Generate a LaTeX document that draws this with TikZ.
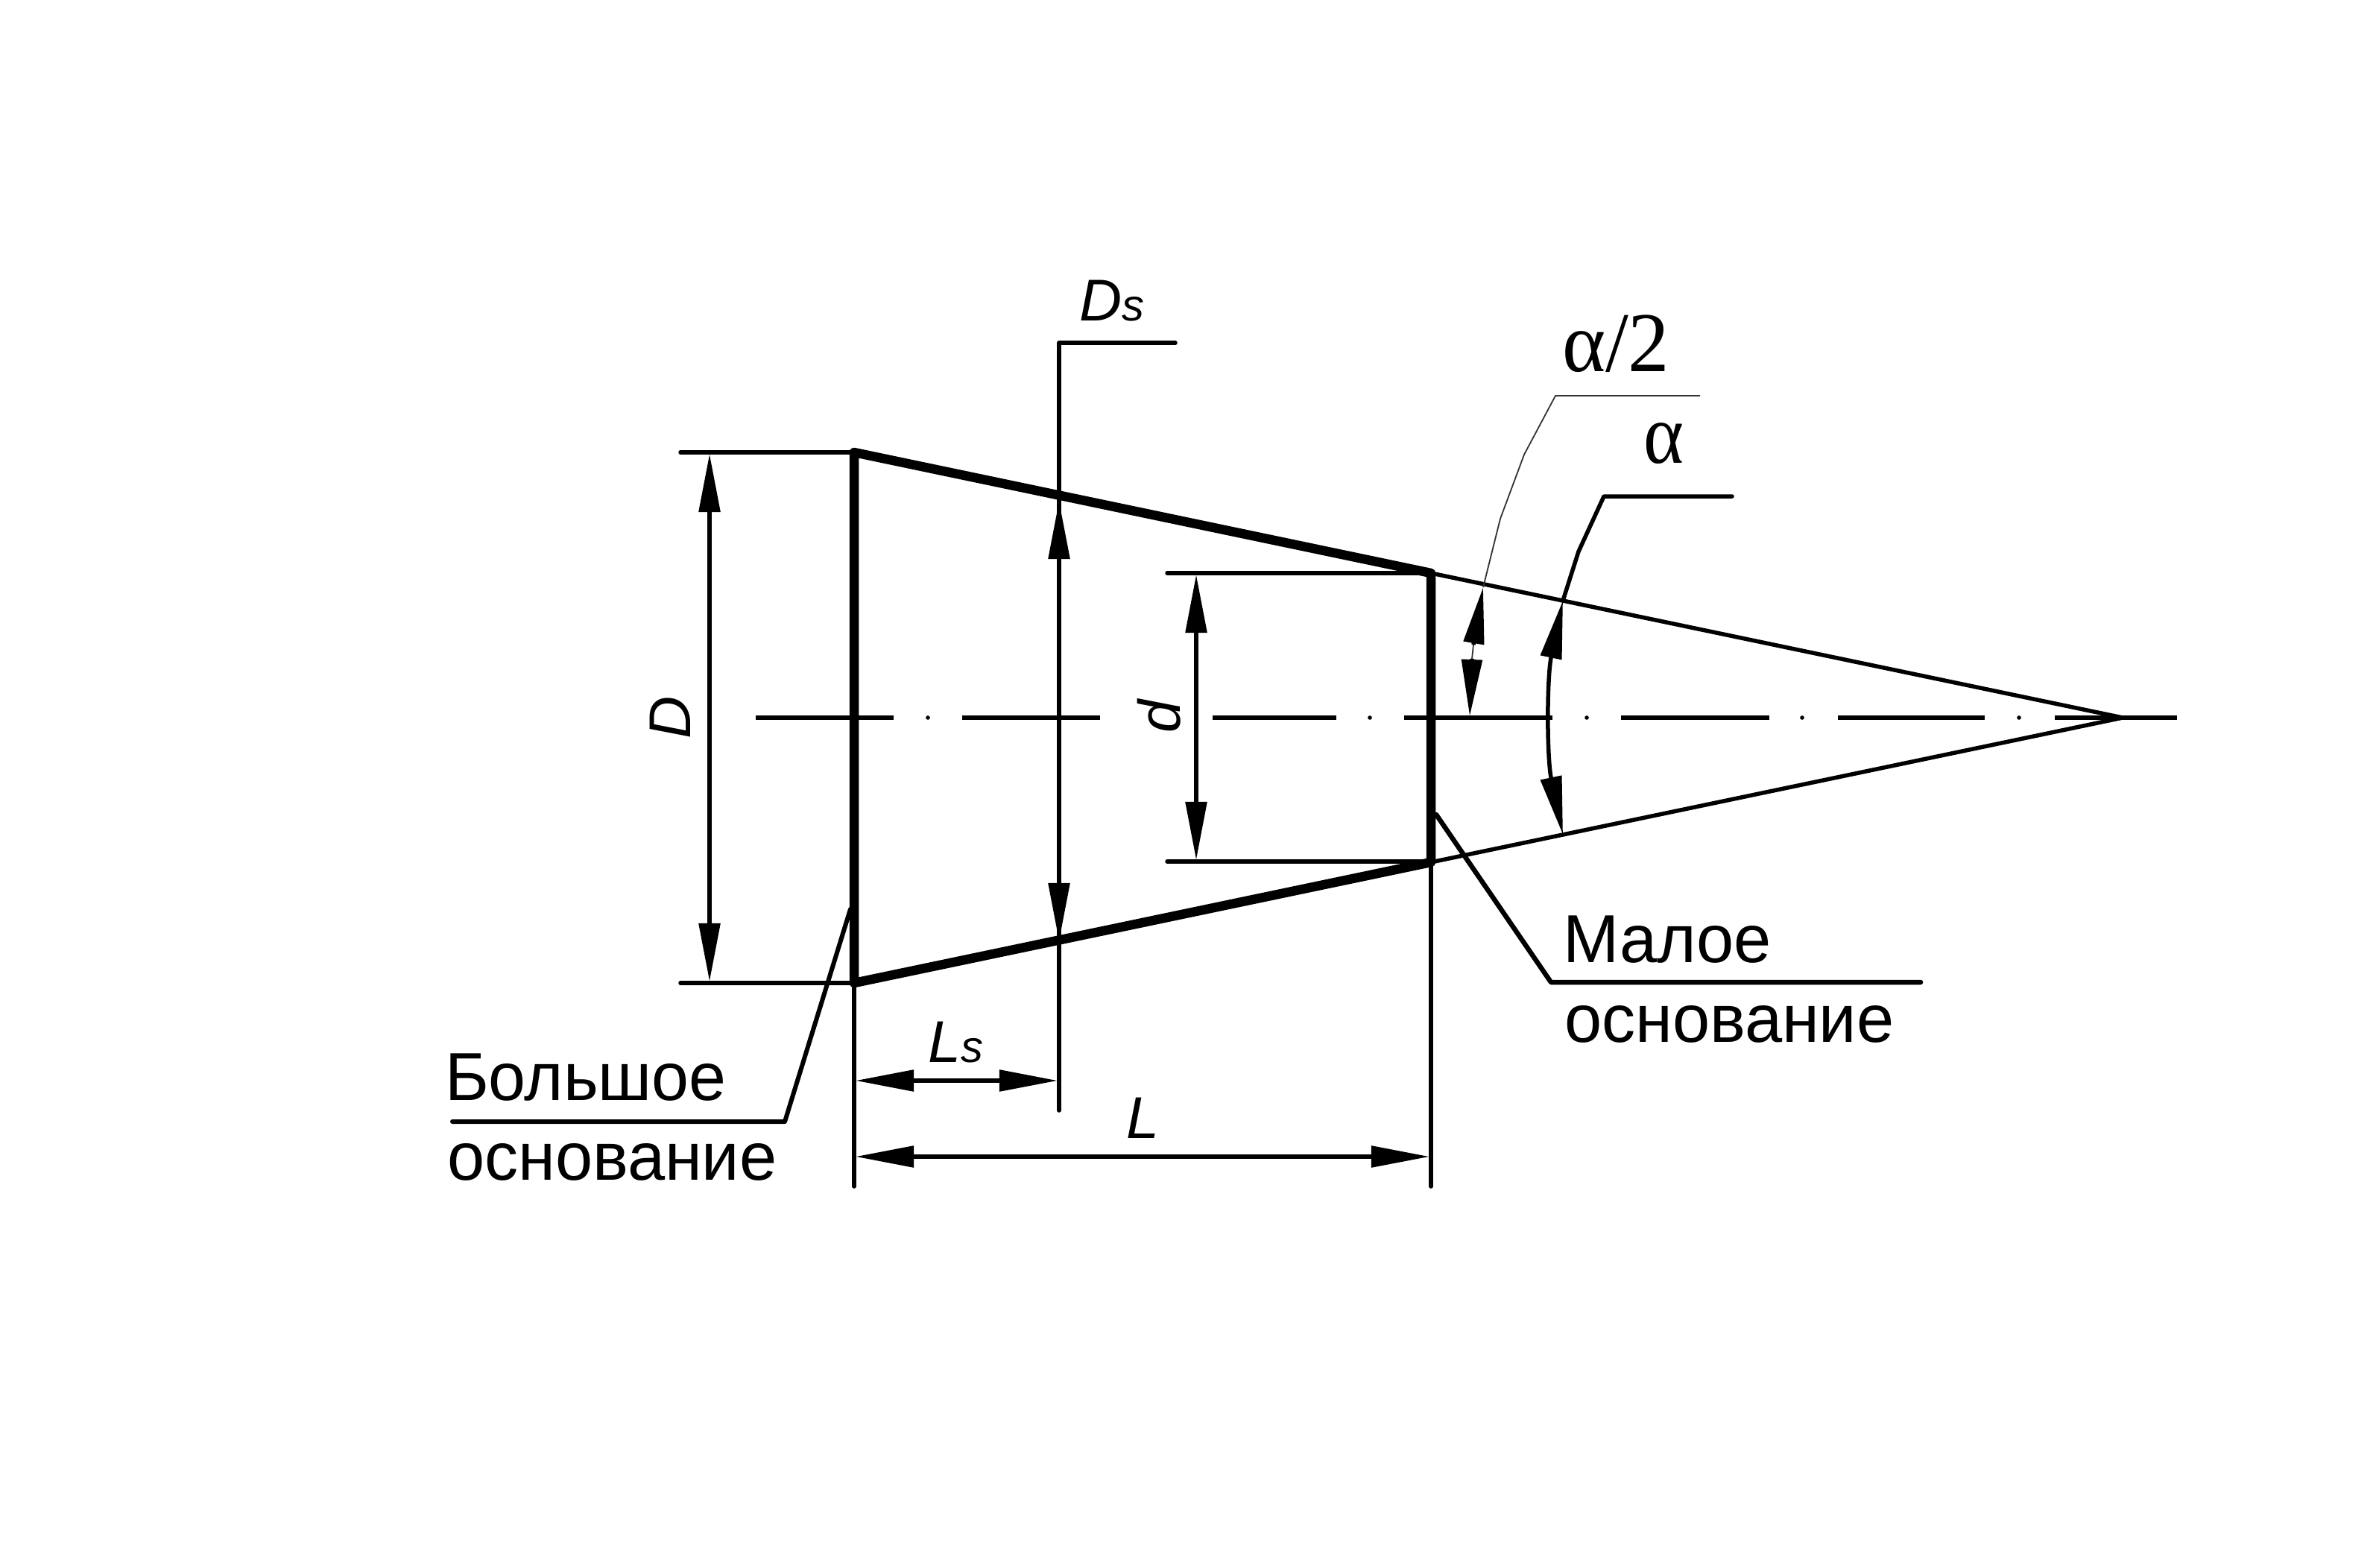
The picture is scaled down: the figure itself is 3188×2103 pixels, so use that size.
\documentclass[tikz,border=0pt]{standalone}
\usepackage{graphicx}
\usepackage{fontspec}
\setmainfont{Liberation Sans}
\newfontfamily\serifgr{Liberation Serif}
\usetikzlibrary{arrows.meta,calc}
\newcommand{\pxfont}[1]{\fontsize{#1}{#1}\selectfont}
\tikzset{
  thinln/.style={line width=0.055cm,line cap=round,line join=round},
  thickln/.style={line width=0.125cm,line cap=round,line join=round},
  hairln/.style={line width=0.018cm,black!80},
  dim/.style={thinln,{Triangle[length=7.8mm,width=2.8mm]}-{Triangle[length=7.8mm,width=2.8mm]}},
  tipend/.style={thinln,-{Triangle[length=7.6mm,width=2.7mm]}},
  lbl/.style={inner sep=0pt,outer sep=0pt,anchor=base west},
  rotlbl/.style={inner sep=0pt,outer sep=0pt,rotate=90}
}
\begin{document}
\begin{tikzpicture}[x=0.01cm,y=-0.01cm]
\useasboundingbox (0,0) rectangle (3188,2103);
\fill[white] (0,0) rectangle (3188,2103);
% main points
\coordinate (apex) at (2848,963);
\coordinate (TL) at (1146,607);
\coordinate (BL) at (1146,1319);
\coordinate (TS) at (1920,769);
\coordinate (BS) at (1920,1157);
% axis
\foreach \a/\b in {1014/1199,1291/1476,1627/1793,1884/2083,2175/2374,2466/2663,2757/2921}
  \draw[line width=0.055cm] (\a,963) -- (\b,963);
\foreach \d in {1245,1838,2129,2418,2709}
  \fill (\d,963) circle[radius=2.8];
% outline
\draw[thinln] (TS) -- (apex) -- (BS);
\draw[thickln] (TS) -- (TL) -- (BL) -- (BS) -- cycle;
% extension lines
\coordinate (DT) at (913,607);
\coordinate (DB) at (913,1319);
\draw[thinln] (DT) -- (TL);
\draw[thinln] (DB) -- (BL);
\coordinate (dT) at (1566,769);
\coordinate (dB) at (1566,1156);
\coordinate (dTe) at (1920,769);
\coordinate (dBe) at (1920,1156);
\draw[thinln] (dT) -- (dTe);
\draw[thinln] (dB) -- (dBe);
\coordinate (LLb) at (1146,1592);
\coordinate (LRb) at (1920,1592);
\draw[thinln] (BL) -- (LLb);
\draw[thinln] (BS) -- (LRb);
% Ds leader
\coordinate (DsR) at (1577,460);
\coordinate (DsC) at (1421,460);
\coordinate (DsB) at (1421,1490);
\draw[thinln] (DsR) -- (DsC) -- (DsB);
% dimension arrows
\coordinate (D1) at (952,609);
\coordinate (D2) at (952,1317);
\draw[dim] (D1) -- (D2);
\coordinate (Ds1) at (1421,672);
\coordinate (Ds2) at (1421,1263);
\draw[dim] (Ds1) -- (Ds2);
\coordinate (d1) at (1605,771);
\coordinate (d2) at (1605,1154);
\draw[dim] (d1) -- (d2);
\coordinate (Ls1) at (1148,1450);
\coordinate (Ls2) at (1419,1450);
\draw[dim] (Ls1) -- (Ls2);
\coordinate (L1) at (1148,1552);
\coordinate (L2) at (1918,1552);
\draw[dim] (L1) -- (L2);
% alpha arc
\coordinate (aT) at ($(apex)+(-751,-157)$);
\draw[dim] (aT) arc[start angle=168.2,end angle=191.8,radius=7.67cm];
% alpha/2 arc
\coordinate (a2T) at (1990,788);
\coordinate (a2B) at (1972,961);
\coordinate (a2Tb) at (1977,865);
\coordinate (a2Bb) at (1975,884);
\draw[hairln] (a2Tb) -- (a2Bb);
\draw[tipend,line cap=butt] (a2Tb) -- (a2T);
\draw[tipend,line cap=butt] (a2Bb) -- (a2B);
% alpha/2 leader
\coordinate (l1) at (2281,531);
\coordinate (l2) at (2087,531);
\coordinate (l3) at (2045,610);
\coordinate (l4) at (2013,696);
\draw[hairln,line join=round] (l1) -- (l2) -- (l3) -- (l4) -- (a2T);
% alpha leader
\coordinate (m1) at (2324,666);
\coordinate (m2) at (2152,666);
\coordinate (m3) at (2118,740);
\draw[thinln] (m1) -- (m2) -- (m3) -- (aT);
% base leaders
\coordinate (big1) at (1141,1220);
\coordinate (big2) at (1053,1505);
\coordinate (big3) at (607,1505);
\draw[thinln,line width=0.06cm] (big1) -- (big2) -- (big3);
\coordinate (sm1) at (1927,1093);
\coordinate (sm2) at (2081,1318);
\coordinate (sm3) at (2577,1318);
\draw[thinln,line width=0.065cm] (sm1) -- (sm2) -- (sm3);
% labels
\node[lbl] (tDs) at (1448,430) {\pxfont{22.5pt}\itshape D\pxfont{17pt}s};
\node[lbl] (tLs) at (1245,1425) {\pxfont{22.5pt}\itshape L\pxfont{17pt}s};
\node[lbl] (tL) at (1511,1527) {\pxfont{22.5pt}\itshape L};
\node[rotlbl,anchor=base] (tD) at (926,963) {\pxfont{22.5pt}\itshape D};
\node[rotlbl,anchor=base] (td) at (1583,961) {\pxfont{22.5pt}\itshape d};
\node[lbl] (tbig) at (597,1476) {\scalebox{0.985}[1]{\pxfont{25.9pt}Большое}};
\node[lbl] (tbig2) at (600,1583) {\scalebox{0.99}[1]{\pxfont{25.9pt}основание}};
\node[lbl] (tsm) at (2097,1291) {\scalebox{0.99}[1]{\pxfont{25.9pt}Малое}};
\node[lbl] (tsm2) at (2099,1398) {\scalebox{0.99}[1]{\pxfont{25.9pt}основание}};
\node[lbl] (ta2) at (2096,498) {\scalebox{0.97}[1]{\serifgr\pxfont{32.5pt}α/2}};
\node[lbl] (ta) at (2205,621) {\scalebox{0.9}[1]{\serifgr\pxfont{32.5pt}α}};
\end{tikzpicture}
\end{document}
